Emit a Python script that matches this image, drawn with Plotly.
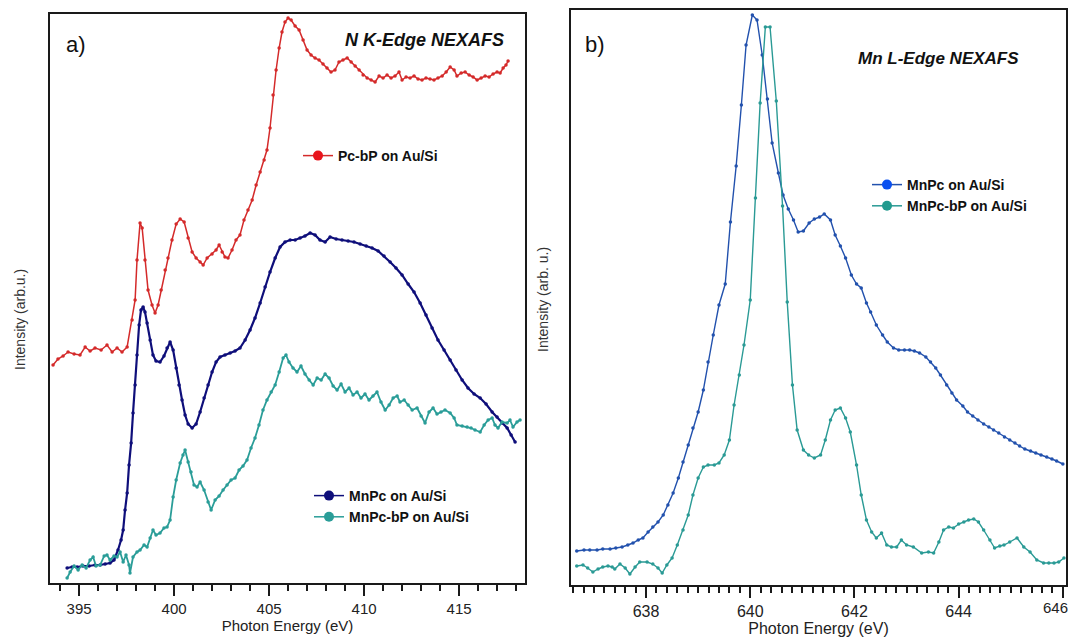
import plotly.graph_objects as go

# ---------------- Panel a: N K-edge NEXAFS ----------------
a_pcbp_e = [393.63,393.89,394.16,394.42,394.74,395.05,395.32,395.58,395.84,396.16,396.47,396.74,397.00,397.26,397.53,397.79,397.95,398.05,398.21,398.32,398.47,398.63,398.84,399.00,399.16,399.32,399.53,399.68,399.89,400.11,400.32,400.53,400.74,400.95,401.16,401.37,401.53,401.74,402.00,402.21,402.37,402.53,402.68,402.84,403.05,403.26,403.47,403.68,403.89,404.11,404.32,404.53,404.74,404.89,405.05,405.21,405.37,405.53,405.68,405.84,406.00,406.16,406.37,406.58,406.79,407.00,407.21,407.42,407.63,407.84,408.05,408.26,408.47,408.68,408.89,409.11,409.32,409.53,409.74,409.95,410.16,410.37,410.58,410.79,411.00,411.21,411.42,411.63,411.84,412.00,412.21,412.42,412.63,412.84,413.05,413.26,413.47,413.68,413.89,414.11,414.32,414.53,414.74,414.89,415.11,415.32,415.53,415.74,415.95,416.16,416.37,416.58,416.79,417.00,417.16,417.32,417.47,417.58]
a_pcbp_i = [2.18,2.24,2.27,2.31,2.29,2.28,2.36,2.32,2.35,2.33,2.38,2.31,2.35,2.31,2.36,2.63,2.83,3.23,3.60,3.55,3.23,2.93,2.78,2.70,2.78,2.93,3.13,3.25,3.43,3.59,3.64,3.61,3.45,3.31,3.25,3.21,3.18,3.25,3.29,3.33,3.38,3.31,3.26,3.25,3.33,3.43,3.48,3.63,3.73,3.83,3.98,4.11,4.23,4.33,4.55,4.88,5.13,5.35,5.51,5.61,5.65,5.63,5.57,5.53,5.43,5.33,5.28,5.25,5.23,5.19,5.15,5.11,5.13,5.21,5.23,5.25,5.21,5.17,5.13,5.08,5.05,5.03,5.01,5.07,5.05,5.08,5.05,5.07,5.11,5.03,5.06,5.05,5.07,5.04,5.03,5.05,5.04,5.03,5.05,5.07,5.11,5.16,5.13,5.07,5.10,5.11,5.08,5.06,5.03,5.05,5.07,5.06,5.09,5.11,5.10,5.15,5.18,5.22]

a_mnpc_e = [394.37,394.63,394.89,395.21,395.53,395.84,396.11,396.37,396.63,396.84,397.05,397.21,397.32,397.42,397.53,397.63,397.74,397.84,397.95,398.05,398.16,398.26,398.37,398.47,398.58,398.74,398.89,399.05,399.26,399.47,399.63,399.79,399.95,400.11,400.26,400.42,400.58,400.74,400.95,401.16,401.37,401.58,401.79,402.00,402.21,402.42,402.68,402.95,403.21,403.47,403.74,404.00,404.26,404.53,404.79,405.05,405.32,405.58,405.84,406.11,406.37,406.63,406.89,407.16,407.42,407.68,407.95,408.21,408.53,408.84,409.16,409.47,409.79,410.11,410.42,410.74,411.05,411.37,411.68,412.00,412.32,412.63,412.95,413.26,413.58,413.89,414.21,414.53,414.84,415.16,415.47,415.79,416.11,416.42,416.74,417.00,417.26,417.53,417.74,417.95]
a_mnpc_i = [0.15,0.16,0.16,0.17,0.17,0.18,0.18,0.19,0.20,0.23,0.33,0.43,0.53,0.73,0.90,1.18,1.40,1.70,1.98,2.28,2.58,2.73,2.76,2.71,2.60,2.43,2.28,2.22,2.21,2.27,2.35,2.41,2.33,2.15,1.98,1.83,1.68,1.59,1.55,1.59,1.71,1.85,1.98,2.11,2.21,2.26,2.28,2.30,2.32,2.35,2.43,2.53,2.65,2.80,2.96,3.11,3.25,3.36,3.41,3.43,3.43,3.45,3.47,3.50,3.48,3.43,3.41,3.46,3.44,3.43,3.42,3.41,3.39,3.37,3.35,3.32,3.27,3.21,3.15,3.08,2.99,2.91,2.80,2.68,2.55,2.43,2.33,2.23,2.13,2.03,1.95,1.89,1.85,1.79,1.71,1.66,1.60,1.55,1.48,1.41]

a_mnpcbp_e = [394.37,394.53,394.74,394.95,395.16,395.37,395.58,395.74,395.89,396.11,396.32,396.47,396.63,396.84,397.00,397.16,397.32,397.47,397.63,397.68,397.84,398.05,398.21,398.42,398.58,398.74,398.89,399.05,399.26,399.47,399.63,399.79,399.95,400.11,400.32,400.47,400.58,400.74,400.89,401.05,401.21,401.37,401.58,401.79,401.95,402.16,402.37,402.58,402.79,403.00,403.21,403.42,403.63,403.84,404.05,404.26,404.47,404.68,404.89,405.11,405.32,405.53,405.74,405.89,406.05,406.26,406.47,406.68,406.89,407.11,407.32,407.53,407.74,407.95,408.16,408.37,408.58,408.79,409.00,409.21,409.42,409.63,409.84,410.05,410.26,410.47,410.68,410.89,411.11,411.32,411.53,411.74,411.89,412.11,412.32,412.53,412.79,413.00,413.21,413.42,413.63,413.84,414.05,414.26,414.53,414.74,414.89,415.16,415.42,415.63,415.84,416.11,416.32,416.53,416.74,416.89,417.05,417.26,417.53,417.68,417.84,418.05,418.21]
a_mnpcbp_i = [0.05,0.11,0.17,0.13,0.18,0.15,0.23,0.26,0.17,0.18,0.27,0.28,0.23,0.27,0.26,0.31,0.21,0.28,0.18,0.10,0.26,0.31,0.33,0.38,0.36,0.45,0.53,0.48,0.50,0.55,0.56,0.63,0.86,1.03,1.20,1.28,1.33,1.21,1.11,0.98,0.96,1.01,0.93,0.81,0.73,0.83,0.87,0.93,0.98,1.03,1.05,1.13,1.17,1.23,1.35,1.45,1.58,1.73,1.83,1.91,1.98,2.11,2.25,2.28,2.21,2.15,2.11,2.17,2.09,2.03,1.98,2.05,2.03,2.09,2.05,1.97,1.93,1.99,1.91,1.95,1.88,1.91,1.85,1.89,1.83,1.87,1.91,1.81,1.73,1.78,1.85,1.87,1.81,1.83,1.78,1.73,1.75,1.67,1.60,1.71,1.75,1.69,1.71,1.73,1.70,1.65,1.58,1.57,1.56,1.55,1.53,1.51,1.58,1.63,1.65,1.58,1.55,1.61,1.60,1.63,1.56,1.61,1.63]

# ---------------- Panel b: Mn L-edge NEXAFS ----------------
b_mnpc_e = [636.67,636.81,636.92,637.06,637.17,637.31,637.42,637.54,637.65,637.75,637.85,637.94,638.04,638.13,638.23,638.33,638.42,638.52,638.62,638.71,638.81,638.90,639.00,639.10,639.19,639.29,639.40,639.52,639.62,639.73,639.83,639.92,640.04,640.13,640.23,640.33,640.42,640.54,640.63,640.73,640.83,640.92,641.02,641.13,641.23,641.33,641.42,641.54,641.63,641.73,641.83,641.94,642.04,642.13,642.23,642.31,642.42,642.54,642.63,642.75,642.85,642.96,643.06,643.15,643.25,643.37,643.46,643.56,643.65,643.77,643.87,643.96,644.08,644.17,644.27,644.37,644.48,644.58,644.67,644.77,644.88,644.98,645.08,645.17,645.27,645.38,645.48,645.58,645.69,645.79,645.88,646.00]
b_mnpc_i = [0.34,0.35,0.35,0.35,0.36,0.36,0.37,0.38,0.40,0.42,0.45,0.47,0.53,0.58,0.63,0.70,0.80,0.92,1.07,1.23,1.40,1.57,1.73,1.95,2.23,2.50,2.80,3.01,3.63,4.19,4.80,5.40,5.70,5.65,5.30,4.86,4.42,4.12,3.90,3.76,3.65,3.53,3.54,3.62,3.66,3.68,3.71,3.65,3.50,3.39,3.27,3.10,3.01,2.97,2.82,2.73,2.60,2.50,2.43,2.37,2.35,2.35,2.35,2.34,2.32,2.28,2.23,2.17,2.10,2.00,1.92,1.85,1.79,1.73,1.69,1.65,1.61,1.58,1.55,1.52,1.48,1.45,1.42,1.39,1.36,1.34,1.32,1.30,1.28,1.26,1.24,1.21]

b_mnpcbp_e = [636.67,636.79,636.88,636.98,637.08,637.17,637.27,637.35,637.40,637.50,637.60,637.69,637.79,637.88,638.02,638.13,638.23,638.31,638.40,638.50,638.60,638.71,638.81,638.90,639.00,639.10,639.19,639.31,639.40,639.50,639.60,639.69,639.79,639.88,640.00,640.10,640.19,640.29,640.38,640.50,640.62,640.71,640.81,640.90,641.02,641.12,641.23,641.35,641.44,641.54,641.63,641.73,641.83,641.92,642.04,642.13,642.23,642.33,642.42,642.52,642.62,642.71,642.81,642.90,643.00,643.13,643.29,643.42,643.52,643.62,643.71,643.81,643.90,644.00,644.10,644.19,644.29,644.38,644.48,644.60,644.69,644.79,644.87,644.98,645.12,645.25,645.37,645.50,645.63,645.73,645.83,645.92,646.02]
b_mnpcbp_i = [0.19,0.20,0.17,0.13,0.16,0.18,0.19,0.18,0.16,0.21,0.17,0.11,0.18,0.23,0.23,0.21,0.17,0.12,0.20,0.27,0.40,0.55,0.70,0.90,1.07,1.18,1.20,1.20,1.22,1.30,1.45,1.80,2.10,2.40,2.85,3.87,4.82,5.58,5.58,4.84,3.79,2.83,2.00,1.55,1.35,1.30,1.27,1.30,1.45,1.65,1.75,1.77,1.67,1.53,1.20,0.90,0.65,0.53,0.47,0.52,0.40,0.38,0.38,0.45,0.40,0.38,0.32,0.33,0.32,0.43,0.55,0.58,0.57,0.61,0.63,0.65,0.66,0.63,0.55,0.45,0.37,0.39,0.40,0.43,0.47,0.38,0.33,0.25,0.22,0.22,0.22,0.23,0.27]

a_ticks = [395, 400, 405, 410, 415]
b_ticks = [638, 640, 642, 644, 646]
b_ticklabels = ["638", "640", "642", "644", "646"]

# page body has an 8px margin: size the figure so it fits the 1076x641 window
OFF = 8
W, H = 1076 - OFF, 641 - OFF
FONT = "Liberation Sans, Arial, sans-serif"

RED, RED_MK = "#d42a2a", "#e8141c"
NAVY = "#0e0e7a"
TEAL_A = "#2a9d98"
BLUE_B, BLUE_MK = "#2251ad", "#0a50f0"
TEAL_B, TEAL_MK = "#2a9a95", "#229a8e"

fig = go.Figure()

def add_curve(x, y, color, width, msize, xa, ya):
    fig.add_trace(go.Scatter(x=x, y=y, mode="lines+markers", xaxis=xa, yaxis=ya,
                             line=dict(color=color, width=width),
                             marker=dict(color=color, size=msize, symbol="circle"),
                             showlegend=False, hoverinfo="x+y"))

def add_legend(name, color, mkcolor, legend, xa, ya):
    fig.add_trace(go.Scatter(x=[None], y=[None], mode="lines+markers", xaxis=xa, yaxis=ya,
                             name=name, legend=legend,
                             line=dict(color=color, width=1.5),
                             marker=dict(color=mkcolor, size=10, symbol="circle")))

add_curve(a_pcbp_e, a_pcbp_i, RED, 1.5, 3.5, "x", "y")
add_curve(a_mnpc_e, a_mnpc_i, NAVY, 2.2, 3.5, "x", "y")
add_curve(a_mnpcbp_e, a_mnpcbp_i, TEAL_A, 1.8, 3.5, "x", "y")
add_curve(b_mnpc_e, b_mnpc_i, BLUE_B, 1.4, 3.5, "x2", "y2")
add_curve(b_mnpcbp_e, b_mnpcbp_i, TEAL_B, 1.4, 3.5, "x2", "y2")

add_legend("Pc-bP on Au/Si", RED, RED_MK, "legend", "x", "y")
add_legend("MnPc on Au/Si", NAVY, NAVY, "legend2", "x", "y")
add_legend("MnPc-bP on Au/Si", TEAL_A, TEAL_A, "legend2", "x", "y")
add_legend("MnPc on Au/Si", BLUE_B, BLUE_MK, "legend3", "x2", "y2")
add_legend("MnPc-bP on Au/Si", TEAL_B, TEAL_MK, "legend3", "x2", "y2")

def px(v):
    return (v - OFF) / W

def py(v):
    return 1 - (v - OFF) / H

xcommon = dict(showline=True, linecolor="#1a1a1a", linewidth=2, mirror=True,
               showgrid=False, zeroline=False, ticks="outside", ticklen=11,
               tickwidth=1.5, tickcolor="#1a1a1a",
               tickfont=dict(family=FONT, size=15, color="#222"))
ycommon = dict(showline=True, linecolor="#1a1a1a", linewidth=2, mirror=True,
               showgrid=False, zeroline=False, ticks="", showticklabels=False)

legfont = dict(family=FONT, size=14, color="#111", weight="bold")
legcommon = dict(font=legfont, bgcolor="rgba(255,255,255,0)", borderwidth=0,
                 xanchor="left", yanchor="top", tracegroupgap=0, itemwidth=30)

# last label of panel b sits at the window edge: drawn as a right-anchored text instead
b_axis_text = b_ticklabels[:-1] + [""]

fig.update_layout(
    width=W, height=H, margin=dict(l=0, r=0, t=0, b=0),
    paper_bgcolor="white", plot_bgcolor="white",
    font=dict(family=FONT, color="#222"),
    xaxis=dict(domain=[px(50), px(525)], range=[393.47, 418.47], tickvals=a_ticks,
               minor=dict(dtick=1, ticks="outside", ticklen=6, tickwidth=1.5, tickcolor="#1a1a1a", showgrid=False),
               title=dict(text="Photon Energy (eV)", font=dict(family=FONT, size=15, color="#222"), standoff=4),
               **xcommon),
    yaxis=dict(domain=[py(583), py(14)], range=[0, 5.69], **ycommon),
    xaxis2=dict(domain=[px(571), px(1066)], range=[636.56, 646.06], tickvals=b_ticks, ticktext=b_axis_text,
                anchor="y2",
                minor=dict(dtick=0.2, ticks="outside", ticklen=6, tickwidth=1.5, tickcolor="#1a1a1a", showgrid=False),
                title=dict(text="Photon Energy (eV)", font=dict(family=FONT, size=16, color="#222"), standoff=0),
                **{**xcommon, "tickfont": dict(family=FONT, size=16, color="#222")}),
    yaxis2=dict(domain=[py(585), py(10)], range=[0, 5.75], anchor="x2", **ycommon),
    legend=dict(x=px(298), y=py(140), **legcommon),
    legend2=dict(x=px(309), y=py(480), **legcommon),
    legend3=dict(x=px(867), y=py(169), **{**legcommon, "bgcolor": "white"}),
)

annots = [
    dict(text="a)", x=px(64), y=py(45), xanchor="left", yanchor="middle", font=dict(size=22, color="#111")),
    dict(text="<b><i>N K-Edge NEXAFS</i></b>", x=px(506), y=py(40), xanchor="right", yanchor="middle", font=dict(size=18, color="#111")),
    dict(text="b)", x=px(583), y=py(45), xanchor="left", yanchor="middle", font=dict(size=22, color="#111")),
    dict(text="<b><i>Mn L-Edge NEXAFS</i></b>", x=px(1021), y=py(58), xanchor="right", yanchor="middle", font=dict(size=17, color="#111")),
    dict(text="Intensity (arb.u.)", x=px(20), y=py(320), textangle=-90, xanchor="center", yanchor="middle", font=dict(size=14, color="#333")),
    dict(text="Intensity (arb. u.)", x=px(543), y=py(300), textangle=-90, xanchor="center", yanchor="middle", font=dict(size=14, color="#333")),
    dict(text=b_ticklabels[-1], x=px(1070), y=py(607), xanchor="right", yanchor="middle", font=dict(size=15, color="#222")),
]
for a in annots:
    a["font"]["family"] = FONT
    fig.add_annotation(xref="paper", yref="paper", showarrow=False, **a)

fig.write_html("out.html")
